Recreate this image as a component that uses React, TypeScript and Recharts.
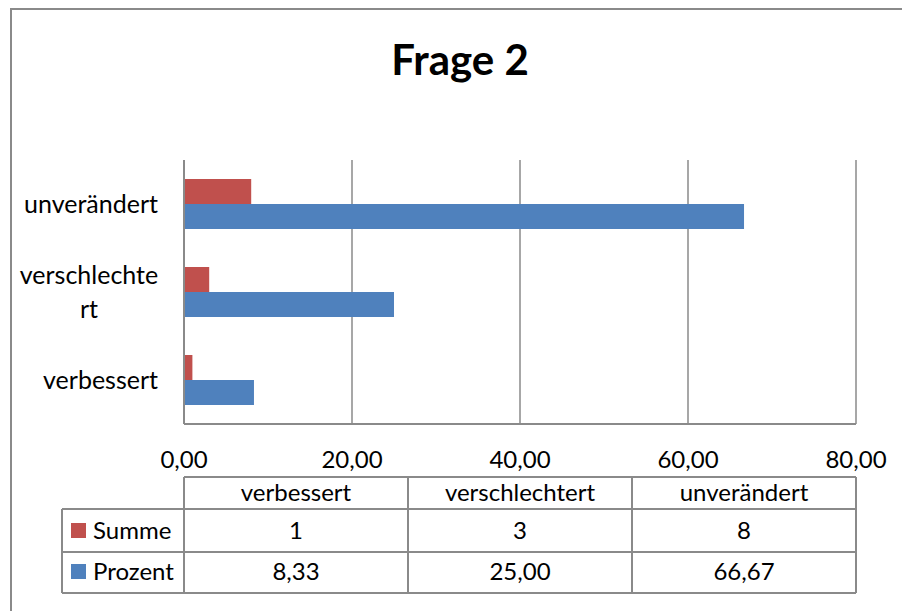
import { Bar, BarChart, CartesianGrid, XAxis, YAxis } from "recharts";

const categories = ["verbessert", "verschlechtert", "unverändert"];
const summe = [1, 3, 8];
const prozent = [8.33, 25.0, 66.67];
const xTicks = [0, 20, 40, 60, 80];
const seriesNames = ["Summe", "Prozent"];
const seriesColors = ["#C0504D", "#4F81BD"];
const title = "Frage 2";

const data = categories.map((name, i) => ({
  name,
  Summe: summe[i],
  Prozent: prozent[i],
}));

const FONT = "Lato, 'Open Sans', sans-serif";
const GRID = "#8a8a8a";
const fmt = (v: number, d = 2) => v.toFixed(d).replace(".", ",");

// plot box
const plotLeft = 184;
const plotRight = 856;
const plotTop = 160;
const plotBottom = 424;
const yAxisWidth = 170;
const xAxisHeight = 40;

// Excel wrapped the long label after 12 chars
const wrap = (s: string) => (s.length > 12 ? [s.slice(0, 12), s.slice(12)] : [s]);

function CategoryTick(props: any) {
  const { x, y, payload } = props;
  const lines = wrap(String(payload.value));
  if (lines.length === 1) {
    return (
      <text x={x} y={y} dy="0.35em" textAnchor="end" fontSize={25} fontFamily={FONT} fill="#000">
        {lines[0]}
      </text>
    );
  }
  return (
    <g>
      {lines.map((l, i) => (
        <text
          key={i}
          x={x - 69}
          y={y + (i - (lines.length - 1) / 2) * 34}
          dy="0.35em"
          textAnchor="middle"
          fontSize={25}
          fontFamily={FONT}
          fill="#000"
        >
          {l}
        </text>
      ))}
    </g>
  );
}

function DataTable() {
  const colW = (plotRight - plotLeft) / categories.length;
  const top = 477;
  const rows = [509, 552, 593];
  const legendLeft = 62;
  const rowValues = [summe.map((v) => String(v)), prozent.map((v) => fmt(v))];
  const lineProps = { stroke: GRID, strokeWidth: 2 };
  return (
    <g fontFamily={FONT} fontSize={24} fill="#000">
      <line x1={plotLeft} x2={plotRight} y1={top} y2={top} {...lineProps} />
      {rows.map((y) => (
        <line key={y} x1={legendLeft} x2={plotRight} y1={y} y2={y} {...lineProps} />
      ))}
      <line x1={legendLeft} x2={legendLeft} y1={rows[0]} y2={rows[2]} {...lineProps} />
      {categories.map((_, i) => (
        <line
          key={i}
          x1={plotLeft + i * colW}
          x2={plotLeft + i * colW}
          y1={top}
          y2={rows[2]}
          {...lineProps}
        />
      ))}
      <line x1={plotRight} x2={plotRight} y1={top} y2={rows[2]} {...lineProps} />
      {categories.map((c, i) => (
        <text key={c} x={plotLeft + (i + 0.5) * colW} y={501} textAnchor="middle">
          {c}
        </text>
      ))}
      {seriesNames.map((s, r) => {
        const base = r === 0 ? 539 : 580;
        return (
          <g key={s}>
            <rect x={71} y={base - 16} width={15} height={15} fill={seriesColors[r]} />
            <text x={93} y={base}>
              {s}
            </text>
            {rowValues[r].map((v, i) => (
              <text key={i} x={plotLeft + (i + 0.5) * colW} y={base} textAnchor="middle">
                {v}
              </text>
            ))}
          </g>
        );
      })}
    </g>
  );
}

export default function App() {
  return (
    <div
      style={{
        position: "absolute",
        left: 0,
        top: 0,
        width: 902,
        height: 611,
        overflow: "hidden",
        background: "#fff",
      }}
    >
      <BarChart
        width={902}
        height={611}
        data={data}
        layout="vertical"
        barGap={0}
        barSize={25}
        margin={{
          top: plotTop,
          right: 902 - plotRight,
          bottom: 611 - plotBottom - xAxisHeight,
          left: plotLeft - yAxisWidth,
        }}
      >
        <CartesianGrid horizontal={false} stroke={GRID} strokeWidth={1.5} />
        <XAxis
          type="number"
          domain={[0, 80]}
          ticks={xTicks}
          tickFormatter={(v: number) => fmt(v)}
          height={xAxisHeight}
          axisLine={{ stroke: GRID, strokeWidth: 2 }}
          tickLine={false}
          tickSize={0}
          tickMargin={27}
          tick={{ fontSize: 24, fontFamily: FONT, fill: "#000" }}
          interval={0}
        />
        <YAxis
          type="category"
          dataKey="name"
          reversed
          width={yAxisWidth}
          axisLine={{ stroke: GRID, strokeWidth: 2 }}
          tickLine={false}
          tickSize={0}
          tickMargin={26}
          tick={<CategoryTick />}
          interval={0}
        />
        <Bar dataKey="Summe" fill={seriesColors[0]} isAnimationActive={false} />
        <Bar dataKey="Prozent" fill={seriesColors[1]} isAnimationActive={false} />
      </BarChart>
      <svg
        width={902}
        height={611}
        style={{ position: "absolute", left: 0, top: 0, pointerEvents: "none" }}
      >
        <path d="M11 700 L11 9 L1200 9" fill="none" stroke={GRID} strokeWidth={2} />
        <text
          x={460}
          y={75}
          textAnchor="middle"
          fontFamily={FONT}
          fontSize={42}
          fontWeight={700}
          fill="#000"
        >
          {title}
        </text>
        <DataTable />
      </svg>
    </div>
  );
}
